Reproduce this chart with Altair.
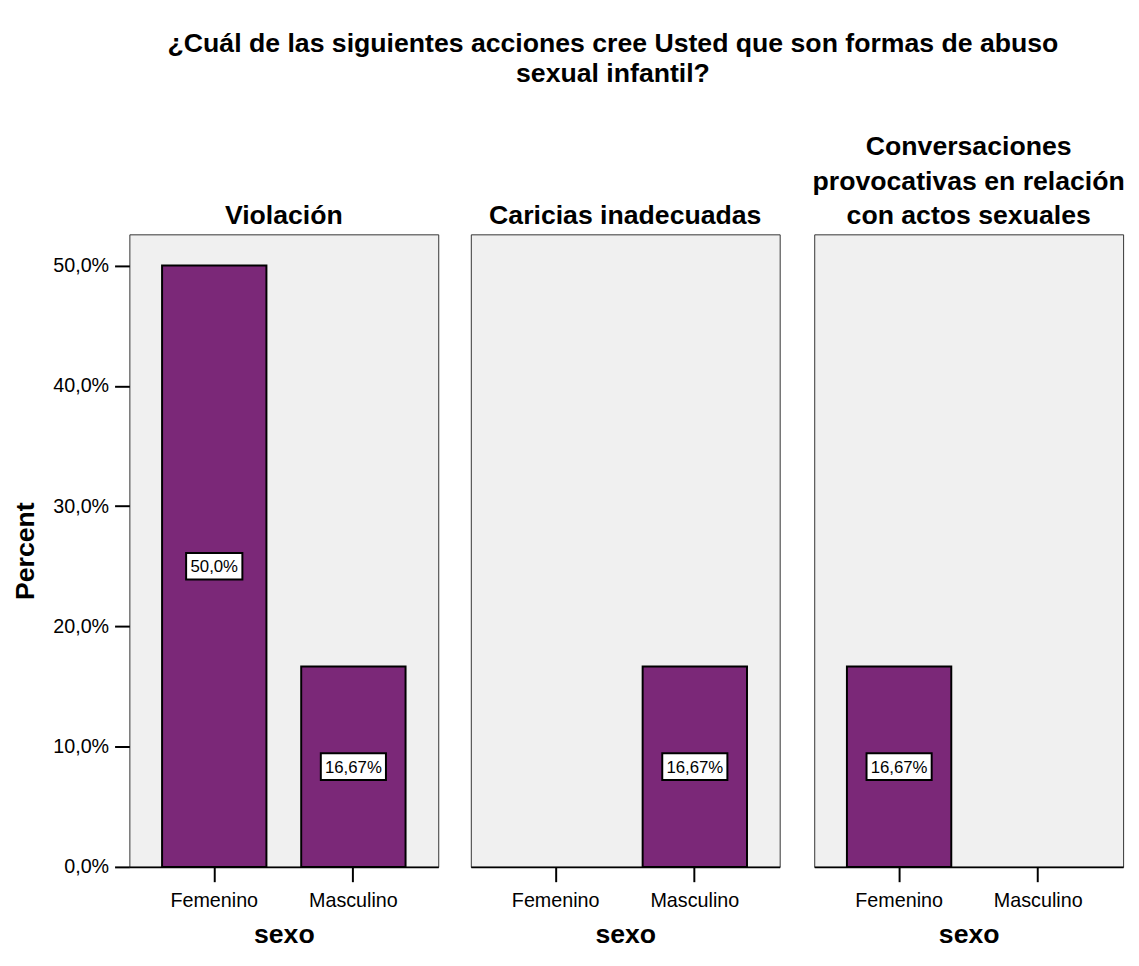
import altair as alt
import pandas as pd

# ---- data ----
panels = ["Violación", "Caricias inadecuadas",
          "Conversaciones provocativas en relación con actos sexuales"]
panel_titles = [["Violación"], ["Caricias inadecuadas"],
                ["Conversaciones", "provocativas en relación", "con actos sexuales"]]
sexo = ["Femenino", "Masculino"]
femenino = [50.0, 0.0, 16.67]
masculino = [16.67, 16.67, 0.0]
fem_labels = ["50,0%", "", "16,67%"]
mas_labels = ["16,67%", "16,67%", ""]
y_ticks = [0, 10, 20, 30, 40, 50]

rows = []
for i, p in enumerate(panels):
    rows.append({"panel": p, "sexo": sexo[0], "pct": femenino[i], "label": fem_labels[i]})
    rows.append({"panel": p, "sexo": sexo[1], "pct": masculino[i], "label": mas_labels[i]})
df = pd.DataFrame(rows)

FONT = "Liberation Sans"
PURPLE = "#7B2878"

SHORT_BOX = "M-2.85,-1.35L2.85,-1.35L2.85,1.35L-2.85,1.35Z"
LONG_BOX = "M-3.3,-1.35L3.3,-1.35L3.3,1.35L-3.3,1.35Z"


def make_panel(i):
    d = df[df.panel == panels[i]]
    base = alt.Chart(d).transform_filter("datum.pct > 0")

    x_axis = alt.Axis(title="sexo", labelAngle=0, labelFontSize=20, labelColor="black",
                      labelFont=FONT, titleFont=FONT, titleFontSize=27, titleFontWeight="bold",
                      titleColor="black", titlePadding=12, tickSize=15, tickWidth=2,
                      tickColor="black", domainColor="black", domainWidth=2, labelPadding=9)
    xscale = alt.Scale(domain=sexo, paddingInner=0.25, paddingOuter=0.235)

    if i == 0:
        y_axis = alt.Axis(title="Percent", values=y_ticks, grid=False, domain=False,
                          labelExpr="replace(format(datum.value, '.1f'), '.', ',') + '%'",
                          labelFontSize=20, labelColor="black", labelFont=FONT,
                          titleFont=FONT, titleFontSize=27, titleFontWeight="bold",
                          titleColor="black", titlePadding=13, tickSize=15, tickWidth=2,
                          tickColor="black", labelPadding=6)
    else:
        y_axis = None
    yscale = alt.Scale(domain=[0, 52.6], nice=False, zero=True)

    bars = base.mark_bar(color=PURPLE, stroke="black", strokeWidth=2).encode(
        x=alt.X("sexo:N", scale=xscale, axis=x_axis),
        y=alt.Y("pct:Q", scale=yscale, axis=y_axis),
    )
    boxes = base.transform_calculate(
        box="length(datum.label) > 5 ? '%s' : '%s'" % (LONG_BOX, SHORT_BOX),
    ).mark_point(filled=True, fill="white", stroke="black", strokeWidth=2, opacity=1,
                 size=400).encode(
        x=alt.X("sexo:N", scale=xscale, axis=x_axis),
        y=alt.Y("pct:Q", scale=yscale, axis=y_axis),
        shape=alt.Shape("box:N", scale=None),
    )
    texts = base.mark_text(
        fontSize=17, font=FONT, color="black", align="center", baseline="middle", dy=1
    ).encode(
        x=alt.X("sexo:N", scale=xscale, axis=x_axis),
        y=alt.Y("pct:Q", scale=yscale, axis=y_axis),
        text="label:N",
    )
    # place boxes/labels at half the bar height
    boxes = boxes.transform_calculate(pct="datum.pct / 2")
    texts = texts.transform_calculate(pct="datum.pct / 2")
    return alt.layer(bars, boxes, texts).properties(
        width=313, height=641,
        title=alt.TitleParams(text=panel_titles[i], fontSize=27, font=FONT,
                              fontWeight="bold", color="black", lineHeight=35,
                              baseline="bottom", offset=9, dy=32, anchor="middle"),
    )


chart = alt.hconcat(*[make_panel(i) for i in range(3)], spacing=31).properties(
    title=alt.TitleParams(
        text=["¿Cuál de las siguientes acciones cree Usted que son formas de abuso",
              "sexual infantil?"],
        fontSize=27, font=FONT, fontWeight="bold", color="black", lineHeight=30,
        anchor="middle", offset=46, dx=45,
    ),
    padding={"left": 3, "right": 5, "top": 16, "bottom": 5},
).configure(
    font=FONT, background="white",
    view=alt.ViewConfig(fill="#F0F0F0", stroke="#333333", strokeWidth=1),
)

chart.save("out.html", embed_options={"renderer": "svg", "actions": False})
